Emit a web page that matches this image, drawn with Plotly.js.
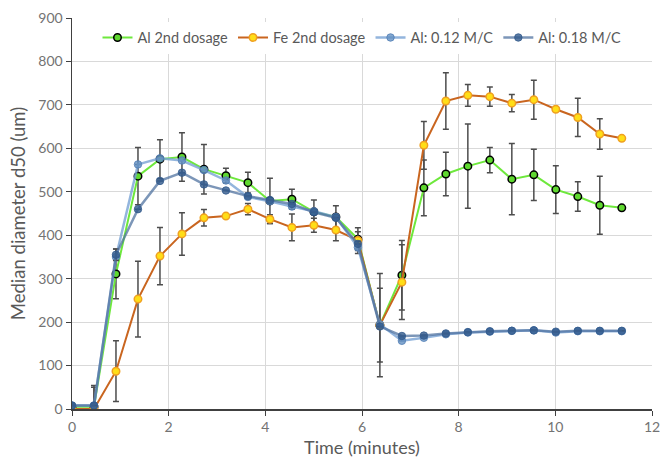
<!DOCTYPE html>
<html>
<head>
<meta charset="utf-8">
<script src="https://cdn.plot.ly/plotly-3.0.1.min.js"></script>
<style>html,body{margin:0;padding:0;background:#fff;}#chart{width:660px;height:459px;}</style>
</head>
<body>
<div id="chart"></div>
<script>
// Time (minutes)
const time = [0, 0.455, 0.91, 1.365, 1.82, 2.275, 2.73, 3.185, 3.64, 4.095, 4.55, 5.005, 5.46, 5.915, 6.37, 6.825, 7.28, 7.735, 8.19, 8.645, 9.1, 9.555, 10.01, 10.465, 10.92, 11.375];

const alSecond    = [5, 5, 311, 536, 575, 580, 552, 537, 521, 479, 483, 454, 442, 391, 193, 308, 509, 541, 559, 573, 529, 539, 505, 489, 469, 463];
const alSecondErr = [0, 45, 57, 66, 45, 56, 57, 17, 24, 52, 23, 27, 26, 26, 85, 80, 64, 50, 97, 29, 82, 59, 55, 34, 67, 0];

const feSecond    = [0, 0, 87, 253, 352, 403, 440, 444, 460, 437, 418, 423, 412, 388, 193, 292, 607, 709, 722, 719, 704, 712, 690, 671, 633, 623];
const feSecondErr = [0, 54, 70, 87, 66, 49, 19, 0, 13, 10, 31, 16, 25, 20, 119, 86, 55, 65, 25, 22, 20, 45, 0, 44, 35, 0];

const al012    = [8, 8, 350, 563, 577, 572, 550, 526, 488, 478, 466, 455, 442, 372, 195, 157, 164, 172, 176, 178, 180, 181, 176, 179, 179, 179];
const al012Err = [0, 0, 0, 0, 0, 0, 0, 0, 0, 0, 0, 0, 0, 14, 0, 0, 0, 0, 0, 0, 0, 0, 0, 0, 0, 0];

const al018    = [8, 8, 355, 460, 525, 544, 517, 503, 490, 481, 472, 453, 440, 380, 190, 168, 169, 174, 177, 179, 180, 181, 178, 180, 180, 180];
const al018Err = [0, 0, 13, 0, 0, 0, 0, 0, 0, 0, 0, 0, 0, 0, 0, 0, 0, 0, 0, 0, 0, 0, 0, 0, 0, 0];

const names = ['Al 2nd dosage', 'Fe 2nd dosage', 'Al: 0.12 M/C', 'Al: 0.18 M/C'];

const errStyle = (arr) => ({type: 'data', array: arr, visible: true, color: '#4d4d4d', thickness: 1.5, width: 3});

const traces = [
  {x: time, y: alSecond, name: names[0], mode: 'lines+markers', type: 'scatter',
   line: {color: '#6ee83c', width: 2},
   marker: {color: '#5fd82f', size: 7.5, line: {color: '#000', width: 1.5}},
   error_y: errStyle(alSecondErr)},
  {x: time, y: feSecond, name: names[1], mode: 'lines+markers', type: 'scatter',
   line: {color: '#c9651f', width: 2},
   marker: {color: '#ffde17', size: 7.5, line: {color: '#f0a020', width: 1.5}},
   error_y: errStyle(feSecondErr)},
  {x: time, y: al012, name: names[2], mode: 'lines+markers', type: 'scatter',
   line: {color: 'rgba(120,163,212,0.8)', width: 2.5},
   marker: {color: 'rgba(100,145,195,0.8)', size: 7.5, line: {color: 'rgba(80,125,180,0.8)', width: 1}},
   error_y: errStyle(al012Err)},
  {x: time, y: al018, name: names[3], mode: 'lines+markers', type: 'scatter',
   line: {color: 'rgba(80,115,160,0.75)', width: 2.5},
   marker: {color: 'rgba(50,90,140,0.8)', size: 7.5, line: {color: 'rgba(50,90,140,0.8)', width: 1}},
   error_y: errStyle(al018Err)}
];

const layout = {
  width: 660, height: 459,
  margin: {l: 72, r: 8, t: 18, b: 50},
  paper_bgcolor: '#fff', plot_bgcolor: '#fff',
  font: {family: 'Lato, sans-serif', color: '#595959', size: 13},
  showlegend: true,
  legend: {orientation: 'h', x: 0.5, xanchor: 'center', y: 0.95, yanchor: 'middle',
           bgcolor: '#fff', font: {size: 14.5, color: '#595959'}, tracegroupgap: 0},
  xaxis: {range: [0, 12], dtick: 2, tick0: 0, showgrid: true, gridcolor: '#d9d9d9', gridwidth: 1,
          showline: true, linecolor: '#404040', linewidth: 1.5, ticks: 'outside', ticklen: 5, tickcolor: '#404040',
          zeroline: false, tickfont: {size: 14, color: '#737373'}, ticklabeloverflow: 'allow',
          title: {text: 'Time (minutes)', font: {size: 18, color: '#595959'}, standoff: 7}},
  yaxis: {range: [0, 900], dtick: 100, tick0: 0, showgrid: true, gridcolor: '#d9d9d9', gridwidth: 1,
          showline: true, linecolor: '#404040', linewidth: 1.5, ticks: 'outside', ticklen: 5, tickcolor: '#404040',
          zeroline: false, tickfont: {size: 14, color: '#737373'},
          title: {text: 'Median diameter d50 (um)', font: {size: 18.5, color: '#595959'}, standoff: 8}}
};

Plotly.newPlot('chart', traces, layout, {displayModeBar: false, staticPlot: true});
</script>
</body>
</html>
